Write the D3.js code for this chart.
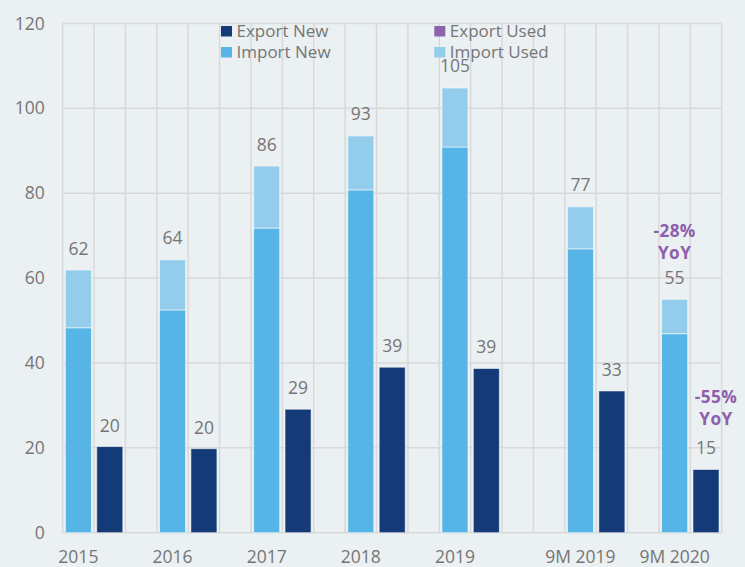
<!DOCTYPE html>
<html>
<head>
<meta charset="utf-8">
<script src="https://cdn.jsdelivr.net/npm/d3@7"></script>
<style>
  html, body { margin: 0; padding: 0; background: #ebf0f2; }
  svg { display: block; }
  text { font-family: "Open Sans", "Noto Sans", sans-serif; }
</style>
</head>
<body>
<svg id="chart" width="745" height="567"></svg>
<script>
const categories = ["2015", "2016", "2017", "2018", "2019", "9M 2019", "9M 2020"];
const exportNew  = [20.3, 19.8, 29.1, 39.0, 38.7, 33.4, 14.9];
const exportUsed = [0, 0, 0, 0, 0, 0, 0];
const importNew  = [48.3, 52.5, 71.8, 80.8, 90.9, 66.9, 46.9];
const importUsed = [13.6, 11.8, 14.6, 12.7, 13.9, 9.9, 8.1];
const importTotalLabels = ["62", "64", "86", "93", "105", "77", "55"];
const exportLabels = ["20", "20", "29", "39", "39", "33", "15"];
const yTicks = [0, 20, 40, 60, 80, 100, 120];
const seriesNames = ["Export New", "Export Used", "Import New", "Import Used"];
const seriesColors = ["#143a78", "#8e63ad", "#56b5e6", "#93cdeb"];
const yoyNotes = [
  { category: "9M 2020", series: "import", lines: ["-28%", "YoY"] },
  { category: "9M 2020", series: "export", lines: ["-55%", "YoY"] }
];
const breakAfter = "2019";

const svg = d3.select("#chart");
const margin = { left: 62.7, right: 23.3, top: 23.5, bottom: 34.3 };
const W = 745, H = 567;
const textColor = "#767676";

const slots = [];
categories.forEach((c, i) => {
  slots.push(c + "|imp", c + "|exp");
  if (i < categories.length - 1) slots.push(c + "|gap");
  if (c === breakAfter) slots.push(c + "|break");
});

const x = d3.scaleBand().domain(slots)
  .range([margin.left, W - margin.right])
  .paddingInner(0.17).paddingOuter(0.085);
const step = x.step();
const x0 = margin.left;

const y = d3.scaleLinear().domain([0, 120]).range([H - margin.bottom, margin.top]);

const grid = svg.append("g");
grid.selectAll("line.h").data(yTicks).join("line")
  .attr("x1", x0).attr("x2", W - margin.right)
  .attr("y1", d => y(d)).attr("y2", d => y(d))
  .attr("stroke", "#d8d9da").attr("stroke-width", 1.5);
grid.selectAll("line.v").data(d3.range(slots.length + 1)).join("line")
  .attr("x1", i => x0 + i * step).attr("x2", i => x0 + i * step)
  .attr("y1", y(120)).attr("y2", y(0))
  .attr("stroke", "#d8d9da").attr("stroke-width", 1.5);

const yAxis = d3.axisLeft(y).tickValues(yTicks).tickSize(0).tickPadding(18);
const ya = svg.append("g").attr("transform", `translate(${x0},0)`).call(yAxis);
ya.select(".domain").remove();
ya.selectAll("text").attr("font-size", 17.5).attr("fill", textColor)
  .style("font-family", '"Open Sans", "Noto Sans", sans-serif');

const barStroke = "rgba(255,255,255,0.55)";
const bars = svg.append("g");
categories.forEach((c, i) => {
  const xi = x(c + "|imp"), xe = x(c + "|exp"), bw = x.bandwidth();
  bars.append("rect").attr("x", xi).attr("width", bw)
    .attr("y", y(importNew[i])).attr("height", y(0) - y(importNew[i]))
    .attr("fill", seriesColors[2]).attr("stroke", barStroke).attr("stroke-width", 1);
  bars.append("rect").attr("x", xi).attr("width", bw)
    .attr("y", y(importNew[i] + importUsed[i])).attr("height", y(importNew[i]) - y(importNew[i] + importUsed[i]))
    .attr("fill", seriesColors[3]).attr("stroke", barStroke).attr("stroke-width", 1);
  bars.append("rect").attr("x", xe).attr("width", bw)
    .attr("y", y(exportNew[i])).attr("height", y(0) - y(exportNew[i]))
    .attr("fill", seriesColors[0]).attr("stroke", barStroke).attr("stroke-width", 1);
  if (exportUsed[i] > 0) {
    bars.append("rect").attr("x", xe).attr("width", bw)
      .attr("y", y(exportNew[i] + exportUsed[i])).attr("height", y(exportNew[i]) - y(exportNew[i] + exportUsed[i]))
      .attr("fill", seriesColors[1]);
  }
  svg.append("text").attr("x", xi + bw / 2).attr("y", y(importNew[i] + importUsed[i]) - 15.5)
    .attr("text-anchor", "middle").attr("font-size", 17.5).attr("fill", textColor)
    .text(importTotalLabels[i]);
  svg.append("text").attr("x", xe + bw / 2).attr("y", y(exportNew[i] + exportUsed[i]) - 15)
    .attr("text-anchor", "middle").attr("font-size", 17.5).attr("fill", textColor)
    .text(exportLabels[i]);
  svg.append("text").attr("x", xi + bw / 2).attr("y", 563)
    .attr("text-anchor", "middle").attr("font-size", 17.5).attr("fill", textColor)
    .text(c);
});

yoyNotes.forEach(n => {
  const i = categories.indexOf(n.category);
  const bw = x.bandwidth();
  let cx, top;
  if (n.series === "import") {
    cx = x(n.category + "|imp") + bw / 2;
    top = y(importNew[i] + importUsed[i]) - 62.5;
  } else {
    cx = x(n.category + "|exp") + bw / 2 + 10;
    top = y(exportNew[i] + exportUsed[i]) - 66.5;
  }
  n.lines.forEach((l, k) => {
    svg.append("text").attr("x", cx).attr("y", top + k * 22)
      .attr("text-anchor", "middle").attr("font-size", 17.2).attr("font-weight", 700)
      .attr("letter-spacing", 0.4)
      .attr("fill", "#8e5fab").text(l);
  });
});

const legendPos = [[221, 26], [434.3, 26], [221, 47], [434.3, 47]];
seriesNames.forEach((s, i) => {
  const [lx, ly] = legendPos[i];
  svg.append("rect").attr("x", lx).attr("y", ly).attr("width", 11).attr("height", 10.5)
    .attr("fill", seriesColors[i]);
  svg.append("text").attr("x", lx + 15.5).attr("y", ly + 11)
    .attr("font-size", 17).attr("fill", textColor).text(s);
});
</script>
</body>
</html>
